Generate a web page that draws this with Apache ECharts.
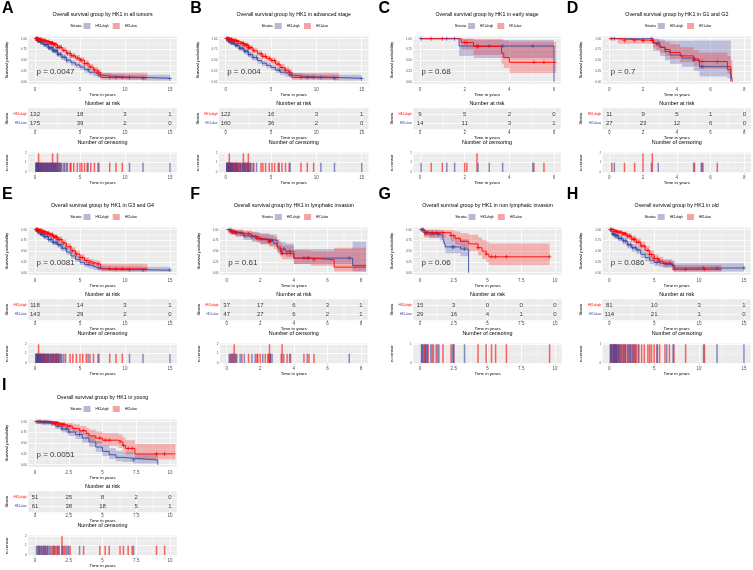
<!DOCTYPE html>
<html><head><meta charset="utf-8">
<script src="https://cdn.jsdelivr.net/npm/echarts@6/dist/echarts.min.js"></script>
<style>html,body{margin:0;padding:0;background:#fff}#c{width:753px;height:570px}</style>
</head><body><div id="c"></div>
<script>
// ---------------- DATA ----------------
const letters=['A','B','C','D','E','F','G','H','I'];
const titles=['Overall survival group by HK1 in all tumors','Overall survival group by HK1 in advanced stage','Overall survival group by HK1 in early stage','Overall survival group by HK1 in G1 and G2','Overall survival group by HK1 in G3 and G4','Overall survival group by HK1 in lymphatic invasion','Overall survival group by HK1 in non lymphatic invasion','Overall survival group by HK1 in old','Overall survival group by HK1 in young'];
const pvals=['p = 0.0047','p = 0.004','p = 0.68','p = 0.7','p = 0.0081','p = 0.61','p = 0.06','p = 0.086','p = 0.0051'];
const xMaxTick=[15,15,6,8,15,8,10,15,10];
const xTicks=[[0,5,10,15],[0,5,10,15],[0,2,4,6],[0,2,4,6,8],[0,5,10,15],[0,2,4,6,8],[0,2.5,5,7.5,10],[0,5,10,15],[0,2.5,5,7.5,10]];
const survTicks=[0,0.25,0.5,0.75,1];
const groupNames=['HK1=high','HK1=low'];

// A
const A_hi_t=[0,0.3,0.6,1.0,1.5,2.0,2.5,3.0,3.5,4.0,4.5,5.0,5.5,6.0,6.5,7.0,7.5,8.5,10.0,12.0,15.0];
const A_hi_s=[1.00,0.95,0.91,0.86,0.79,0.72,0.64,0.57,0.50,0.44,0.39,0.34,0.28,0.22,0.18,0.15,0.13,0.11,0.10,0.08,0.07];
const A_hi_lo=[1.00,0.92,0.87,0.81,0.73,0.66,0.58,0.50,0.43,0.37,0.32,0.27,0.21,0.16,0.12,0.10,0.08,0.06,0.05,0.03,0.02];
const A_hi_up=[1.00,0.98,0.95,0.91,0.85,0.79,0.71,0.64,0.57,0.51,0.46,0.41,0.35,0.29,0.25,0.22,0.20,0.18,0.17,0.16,0.16];
const A_hi_c=[0.1,0.15,0.2,0.25,0.3,0.35,0.45,0.5,0.6,0.7,0.8,0.9,1.0,1.1,1.2,1.3,1.4,1.5,1.6,1.7,1.8,1.9,2.0,2.1,2.2,2.3,2.4,2.5,2.6,2.8,3.0,3.3,3.5,5.9,7.1,10.5,12.0,15.0];
const A_lo_t=[0,0.4,0.8,1.2,1.6,2.0,2.5,3.0,3.5,4.0,4.5,5.0,5.5,6.0,6.5,7.0,7.3,12.5];
const A_lo_s=[1.00,0.98,0.96,0.93,0.90,0.86,0.80,0.73,0.66,0.60,0.55,0.50,0.42,0.34,0.27,0.22,0.10,0.10];
const A_lo_lo=[1.00,0.96,0.93,0.90,0.86,0.81,0.75,0.67,0.60,0.54,0.48,0.43,0.35,0.27,0.20,0.15,0.04,0.04];
const A_lo_up=[1.00,1.00,0.99,0.97,0.94,0.91,0.86,0.80,0.73,0.67,0.62,0.57,0.50,0.42,0.35,0.30,0.21,0.21];
const A_lo_c=[0.12,0.18,0.22,0.28,0.33,0.4,0.4,0.48,0.55,0.62,0.68,0.75,0.85,0.95,1.05,1.15,1.25,1.35,1.45,1.55,1.65,1.75,1.85,1.95,1.95,2.05,2.15,2.25,2.35,2.5,2.5,2.65,2.75,2.9,3.2,3.6,3.9,4.0,4.3,4.7,5.0,5.2,5.5,5.8,6.2,6.6,7.0,8.3,9.0,9.7];
const A_risk_hi=[132,18,3,1];
const A_risk_lo=[175,39,2,0];
// B
const B_hi_t=[0,0.3,0.6,1.0,1.5,2.0,2.5,3.0,3.5,4.0,4.5,5.0,5.5,6.0,6.5,7.0,7.5,8.5,10.0,12.0,15.0];
const B_hi_s=[1.00,0.94,0.90,0.85,0.78,0.71,0.63,0.56,0.49,0.43,0.38,0.33,0.27,0.22,0.18,0.15,0.13,0.11,0.10,0.08,0.07];
const B_hi_lo=[1.00,0.90,0.86,0.80,0.72,0.65,0.57,0.49,0.42,0.36,0.31,0.26,0.20,0.16,0.12,0.10,0.08,0.06,0.05,0.03,0.02];
const B_hi_up=[1.00,0.98,0.94,0.90,0.84,0.78,0.70,0.63,0.56,0.50,0.45,0.40,0.34,0.29,0.25,0.22,0.20,0.18,0.17,0.16,0.16];
const B_hi_c=[0.1,0.15,0.2,0.3,0.4,0.5,0.6,0.7,0.8,0.9,1.1,1.2,1.3,1.5,1.6,1.8,1.9,2.1,2.2,2.4,2.5,2.7,3.0,3.4,5.9,7.1,10.5,12.0,15.0];
const B_lo_t=[0,0.4,0.8,1.2,1.6,2.0,2.5,3.0,3.5,4.0,4.5,5.0,5.5,6.0,6.5,7.0,7.3,12.5];
const B_lo_s=[1.00,0.98,0.96,0.93,0.89,0.85,0.79,0.72,0.65,0.59,0.54,0.49,0.41,0.33,0.27,0.22,0.10,0.10];
const B_lo_lo=[1.00,0.96,0.93,0.89,0.85,0.80,0.73,0.66,0.59,0.53,0.47,0.42,0.34,0.26,0.20,0.15,0.04,0.04];
const B_lo_up=[1.00,1.00,0.99,0.97,0.94,0.91,0.85,0.79,0.72,0.66,0.61,0.56,0.49,0.41,0.35,0.30,0.21,0.21];
const B_lo_c=[0.12,0.18,0.25,0.3,0.35,0.4,0.4,0.45,0.5,0.58,0.65,0.7,0.8,0.88,1.0,1.05,1.15,1.2,1.35,1.4,1.6,1.7,1.9,1.95,1.95,2.05,2.2,2.3,2.45,2.5,2.5,2.65,2.8,3.1,3.9,4.1,4.4,4.8,5.1,5.4,5.8,6.2,6.6,7.0,8.3,9.0,9.7];
const B_risk_hi=[122,16,3,1];
const B_risk_lo=[160,36,2,0];
// C
const C_hi_t=[0,1.75,2.4,6.0,6.0];
const C_hi_s=[1,0.83,0.83,0.83,0];
const C_hi_lo=[1,0.6,0.55,0.55,0];
const C_hi_up=[1,1,0.97,0.97,0];
const C_hi_c=[0.05,1.2,1.55,2.6,3.1,3.7,5.05];
const C_lo_t=[0,1.85,2.4,3.65,3.75,4.0,6.1];
const C_lo_s=[1,0.91,0.82,0.66,0.56,0.45,0.45];
const C_lo_lo=[1,0.75,0.62,0.42,0.32,0.2,0.2];
const C_lo_up=[1,1,1,0.98,0.95,0.93,0.93];
const C_lo_c=[0.5,1.0,2.0,2.1,2.55,2.55,5.1,5.55];
const C_risk_hi=[9,5,2,0];
const C_risk_lo=[14,11,3,1];
// D
const D_hi_t=[0,2.6,3.0,3.3,3.6,4.3,5.0,5.35,7.0,7.2];
const D_hi_s=[1,0.9,0.8,0.7,0.62,0.55,0.5,0.35,0.28,0];
const D_hi_lo=[1,0.72,0.6,0.5,0.42,0.35,0.25,0.12,0.08,0];
const D_hi_up=[1,1,0.98,0.96,0.95,0.95,0.96,0.96,0.96,0];
const D_hi_c=[0.3,2.5,2.9,5.0,5.45,5.55];
const D_lo_t=[0,0.5,2.6,2.8,3.0,3.3,3.6,4.2,5.0,5.3,7.0,7.2,7.3];
const D_lo_s=[1,0.96,0.9,0.85,0.8,0.75,0.68,0.6,0.53,0.47,0.35,0.2,0];
const D_lo_lo=[1,0.88,0.8,0.73,0.67,0.6,0.53,0.45,0.37,0.3,0.18,0.06,0];
const D_lo_up=[1,1,1,0.98,0.95,0.92,0.87,0.8,0.73,0.68,0.6,0.5,0];
const D_lo_c=[0.15,0.9,1.5,2.0,2.0,2.55,2.55,5.05,5.5,6.4];
const D_risk_hi=[11,9,5,1,0];
const D_risk_lo=[27,23,12,6,0];
// E
const E_hi_t=[0,0.3,0.6,1.0,1.5,2.0,2.5,3.0,3.5,4.0,4.5,5.0,5.5,6.0,6.5,7.0,7.5,8.5,10.0,12.0,15.0];
const E_hi_s=[1.00,0.95,0.90,0.84,0.77,0.70,0.65,0.57,0.48,0.39,0.31,0.24,0.19,0.15,0.12,0.10,0.08,0.07,0.07,0.06,0.06];
const E_hi_lo=[1.00,0.91,0.86,0.79,0.71,0.64,0.58,0.50,0.41,0.32,0.25,0.18,0.13,0.10,0.07,0.05,0.04,0.03,0.03,0.02,0.02];
const E_hi_up=[1.00,0.98,0.95,0.90,0.84,0.77,0.72,0.65,0.56,0.47,0.39,0.31,0.26,0.22,0.19,0.17,0.16,0.15,0.15,0.14,0.14];
const E_hi_c=[0.1,0.15,0.2,0.3,0.4,0.45,0.6,0.7,0.8,0.9,1.0,1.1,1.2,1.4,1.5,1.7,1.8,2.0,2.1,2.3,2.4,2.6,2.8,3.0,3.4,5.9,7.1,10.5,12.0,15.0];
const E_lo_t=[0,0.4,0.8,1.2,1.6,2.0,2.5,3.0,3.5,4.0,4.5,5.0,5.5,6.0,6.5,7.0,7.3,12.5];
const E_lo_s=[1.00,0.98,0.95,0.92,0.88,0.83,0.77,0.69,0.60,0.51,0.43,0.35,0.28,0.24,0.21,0.20,0.09,0.09];
const E_lo_lo=[1.00,0.95,0.92,0.88,0.83,0.77,0.71,0.62,0.53,0.44,0.36,0.28,0.21,0.17,0.14,0.13,0.03,0.03];
const E_lo_up=[1.00,1.00,0.99,0.96,0.93,0.89,0.84,0.77,0.68,0.59,0.51,0.43,0.36,0.32,0.29,0.28,0.21,0.21];
const E_lo_c=[0.12,0.18,0.25,0.3,0.35,0.4,0.4,0.5,0.55,0.6,0.68,0.75,0.85,0.9,1.0,1.08,1.2,1.3,1.4,1.5,1.6,1.75,1.9,1.95,2.05,2.2,2.3,2.4,2.5,2.6,2.7,2.9,3.2,3.9,4.2,4.6,5.0,5.3,5.7,6.1,6.5,7.0,8.3,9.0,9.7];
const E_risk_hi=[118,14,3,1];
const E_risk_lo=[143,29,2,0];
// F
const F_hi_t=[0,0.3,0.6,1.0,1.5,2.0,2.6,3.0,3.1,3.5,4.0,7.5,8.3];
const F_hi_s=[1,0.95,0.92,0.86,0.83,0.78,0.75,0.63,0.55,0.5,0.34,0.17,0.17];
const F_hi_lo=[1,0.88,0.84,0.76,0.72,0.66,0.62,0.5,0.42,0.37,0.2,0.03,0.03];
const F_hi_up=[1,1,1,0.96,0.94,0.91,0.89,0.78,0.72,0.68,0.55,0.72,0.72];
const F_hi_c=[0.15,0.25,0.3,0.4,0.5,0.6,0.8,1.05,1.5,1.7,2.15,2.6,2.7,3.4,3.75,4.8,7.3];
const F_lo_t=[0,0.2,0.5,1.0,1.5,1.8,2.0,2.5,2.8,3.0,3.2,3.3,4.0,5.0,6.4,8.3];
const F_lo_s=[1,0.95,0.92,0.9,0.85,0.8,0.77,0.73,0.68,0.6,0.5,0.45,0.34,0.3,0.13,0.13];
const F_lo_lo=[1,0.88,0.84,0.81,0.75,0.7,0.66,0.61,0.55,0.47,0.36,0.31,0.2,0.16,0.03,0.03];
const F_lo_up=[1,1,1,0.98,0.95,0.92,0.9,0.87,0.83,0.77,0.68,0.63,0.52,0.5,0.58,0.58];
const F_lo_c=[0.2,0.35,0.45,0.45,0.55,0.9,1.3,1.8,1.85,2.0,2.3,2.45,2.5,2.55,2.55,2.6,3.25,3.3,3.3,3.6,3.8,4.6,4.9,5.2];
const F_risk_hi=[37,17,6,3,1];
const F_risk_lo=[47,27,6,2,1];
// G
const G_hi_t=[0,0.3,0.7,1.5,1.7,1.8,1.9,3.0,3.6,3.6];
const G_hi_s=[1,0.93,0.9,0.86,0.79,0.7,0.6,0.55,0.55,0];
const G_hi_lo=[1,0.85,0.8,0.75,0.66,0.56,0.45,0.38,0.38,0];
const G_hi_up=[1,1,1,0.98,0.94,0.88,0.82,0.78,0.78,0];
const G_hi_c=[0.1,0.15,0.2,0.4,0.5,0.55,0.8,1.0,1.3,1.4,2.4,2.5,3.3];
const G_lo_t=[0,0.3,2.3,2.6,3.0,3.6,4.3,4.6,4.9,5.1,9.6];
const G_lo_s=[1,0.93,0.86,0.8,0.73,0.67,0.58,0.5,0.43,0.37,0.37];
const G_lo_lo=[1,0.82,0.73,0.65,0.57,0.5,0.4,0.32,0.25,0.18,0.18];
const G_lo_up=[1,1,0.99,0.96,0.92,0.88,0.82,0.76,0.72,0.68,0.68];
const G_lo_c=[0.25,0.35,0.4,0.6,0.9,1.2,1.7,2.3,2.5,4.3,4.9,5.3,5.6,6.4,9.6];
const G_risk_hi=[15,3,0,0,0];
const G_risk_lo=[29,16,4,1,0];
// H
const H_hi_t=[0,0.3,0.6,1.0,1.5,2.0,2.5,3.0,3.5,4.0,4.5,5.0,5.5,6.0,7.0,7.3,15.0];
const H_hi_s=[1,0.9,0.86,0.8,0.74,0.65,0.58,0.53,0.43,0.35,0.29,0.24,0.21,0.19,0.17,0.11,0.11];
const H_hi_lo=[1,0.84,0.79,0.73,0.66,0.57,0.49,0.44,0.34,0.26,0.2,0.16,0.13,0.11,0.09,0.03,0.03];
const H_hi_up=[1,0.96,0.93,0.88,0.83,0.74,0.67,0.62,0.53,0.45,0.39,0.34,0.31,0.29,0.27,0.22,0.22];
const H_hi_c=[0.1,0.2,0.25,0.4,0.5,0.6,0.7,0.8,0.9,1.05,1.2,1.35,1.6,1.8,2.1,2.35,2.6,2.9,3.2,5.3,6.4,7.1,10.5,12.0,15.0];
const H_lo_t=[0,0.5,1.0,1.5,2.0,2.5,3.0,3.5,4.0,4.5,5.0,5.5,6.0,7.0,7.2,12.5];
const H_lo_s=[1,0.96,0.94,0.9,0.85,0.78,0.71,0.62,0.52,0.42,0.33,0.27,0.22,0.18,0.08,0.08];
const H_lo_lo=[1,0.92,0.89,0.84,0.78,0.7,0.62,0.53,0.43,0.33,0.25,0.19,0.14,0.1,0.02,0.02];
const H_lo_up=[1,1,0.99,0.96,0.92,0.86,0.8,0.72,0.62,0.52,0.43,0.37,0.31,0.27,0.18,0.18];
const H_lo_c=[0.15,0.3,0.45,0.55,0.65,0.75,0.85,1.0,1.1,1.3,1.5,1.65,1.8,2.0,2.2,2.3,2.5,2.7,2.8,3.0,3.3,3.6,3.9,4.3,4.5,4.7,5.0,5.35,5.6,6.2,6.7,7.2,8.5,10.6];
const H_risk_hi=[81,10,3,1];
const H_risk_lo=[114,21,1,0];
// I
const I_hi_t=[0,0.5,1.2,1.5,2.0,2.5,3.0,3.5,4.0,4.5,5.0,5.5,6.0,6.5,7.3,9.1,9.1];
const I_hi_s=[1,0.98,0.96,0.9,0.83,0.76,0.7,0.62,0.53,0.41,0.31,0.23,0.17,0.15,0.11,0.11,0];
const I_hi_lo=[1,0.94,0.91,0.83,0.75,0.67,0.6,0.51,0.42,0.3,0.2,0.13,0.08,0.06,0.03,0.03,0];
const I_hi_up=[1,1,1,0.97,0.92,0.86,0.81,0.74,0.66,0.55,0.45,0.38,0.32,0.3,0.25,0.25,0];
const I_hi_c=[0.1,0.2,0.3,0.4,0.5,0.6,0.7,0.8,0.9,1.0,1.2,1.4,1.7,2.0,2.3,2.5,3.3,7.3];
const I_lo_t=[0,1.3,1.8,2.3,2.8,3.3,3.8,4.0,4.5,5.0,6.2,6.5,6.7,7.4,10.4];
const I_lo_s=[1,0.97,0.93,0.89,0.84,0.79,0.73,0.67,0.62,0.57,0.53,0.45,0.38,0.25,0.25];
const I_lo_lo=[1,0.92,0.87,0.81,0.75,0.69,0.62,0.55,0.49,0.44,0.39,0.31,0.24,0.12,0.12];
const I_lo_up=[1,1,0.99,0.97,0.94,0.9,0.86,0.81,0.77,0.73,0.7,0.63,0.57,0.48,0.48];
const I_lo_c=[0.25,0.35,0.5,0.65,0.75,0.9,1.1,1.3,1.4,1.5,1.6,1.7,1.8,2.0,2.0,2.1,2.2,2.4,2.6,3.6,4.8,5.2,5.5,6.3,6.55,6.9,7.2,9.0,9.6];
const I_risk_hi=[51,25,8,2,0];
const I_risk_lo=[61,38,18,5,1];

const PANELS=[
 [[A_hi_t,A_hi_s,A_hi_lo,A_hi_up,A_hi_c],[A_lo_t,A_lo_s,A_lo_lo,A_lo_up,A_lo_c],A_risk_hi,A_risk_lo],
 [[B_hi_t,B_hi_s,B_hi_lo,B_hi_up,B_hi_c],[B_lo_t,B_lo_s,B_lo_lo,B_lo_up,B_lo_c],B_risk_hi,B_risk_lo],
 [[C_hi_t,C_hi_s,C_hi_lo,C_hi_up,C_hi_c],[C_lo_t,C_lo_s,C_lo_lo,C_lo_up,C_lo_c],C_risk_hi,C_risk_lo],
 [[D_hi_t,D_hi_s,D_hi_lo,D_hi_up,D_hi_c],[D_lo_t,D_lo_s,D_lo_lo,D_lo_up,D_lo_c],D_risk_hi,D_risk_lo],
 [[E_hi_t,E_hi_s,E_hi_lo,E_hi_up,E_hi_c],[E_lo_t,E_lo_s,E_lo_lo,E_lo_up,E_lo_c],E_risk_hi,E_risk_lo],
 [[F_hi_t,F_hi_s,F_hi_lo,F_hi_up,F_hi_c],[F_lo_t,F_lo_s,F_lo_lo,F_lo_up,F_lo_c],F_risk_hi,F_risk_lo],
 [[G_hi_t,G_hi_s,G_hi_lo,G_hi_up,G_hi_c],[G_lo_t,G_lo_s,G_lo_lo,G_lo_up,G_lo_c],G_risk_hi,G_risk_lo],
 [[H_hi_t,H_hi_s,H_hi_lo,H_hi_up,H_hi_c],[H_lo_t,H_lo_s,H_lo_lo,H_lo_up,H_lo_c],H_risk_hi,H_risk_lo],
 [[I_hi_t,I_hi_s,I_hi_lo,I_hi_up,I_hi_c],[I_lo_t,I_lo_s,I_lo_lo,I_lo_up,I_lo_c],I_risk_hi,I_risk_lo]
];

// ---------------- LAYOUT / STYLE ----------------
const FONT='Liberation Sans';
const LINE=['#3A47A0','#FF0000'];
const BAND=['rgba(58,71,160,0.27)','rgba(255,0,0,0.25)'];
const BARC=['rgba(58,71,160,0.6)','rgba(255,0,0,0.6)'];
const BARZ=[4,3];
const KEYC=['#B7B9D6','#F3A3A3'];
const RISKLAB=['#FF0000','#3A47A0'];
const X0=[35,225.7,420,609.3,35,226.7,420,609.3,35];
const XM=[170,361.7,554,744.3,170,361,555,744,170];
const RB=[0,0,0,0,191,191,191,191,383];
const COL=[0,188.25,376.5,564.75,0,188.25,376.5,564.75,0];
const LETY=[8.7,195,386];
const PLUS='path://M2,0H3V2H5V3H3V5H2V3H0V2H2Z';

const grid=[],xAxis=[],yAxis=[],series=[],legend=[],graphic=[];

function sAt(T,S,t){let v=S[0];for(let k=0;k<T.length;k++){if(T[k]<=t)v=S[k];else break;}return v;}
function counts(C){const m=new Map();C.forEach(t=>m.set(t,(m.get(t)||0)+1));return [...m.entries()];}
function mids(a){const r=[];for(let k=0;k<a.length-1;k++)r.push((a[k]+a[k+1])/2);return r;}
function gridlines(gi,xs,ys,ysMinor){
  const d=[];
  mids(xs).forEach(v=>d.push({xAxis:v,lineStyle:{width:0.4}}));
  ysMinor.forEach(v=>d.push({yAxis:v,lineStyle:{width:0.4}}));
  xs.forEach(v=>d.push({xAxis:v,lineStyle:{width:0.8}}));
  ys.forEach(v=>d.push({yAxis:v,lineStyle:{width:0.8}}));
  series.push({type:'line',xAxisIndex:gi,yAxisIndex:gi,data:[[0,0]],showSymbol:false,lineStyle:{width:0,opacity:0},silent:true,z:1,
    markLine:{z:1,silent:true,symbol:['none','none'],label:{show:false},lineStyle:{color:'#FFFFFF',type:'solid'},animation:false,data:d}});
}
function xax(gi,xmin,xmax,ticks,margin,nameGap){
  return {type:'value',gridIndex:gi,min:xmin,max:xmax,axisLine:{show:false},splitLine:{show:false},
    axisTick:{show:true,customValues:ticks,length:1.5,lineStyle:{color:'#333',width:0.5}},
    axisLabel:{customValues:ticks,fontSize:4.5,color:'#4D4D4D',margin:margin,fontFamily:FONT},
    name:'Time in years',nameLocation:'middle',nameGap:nameGap,nameTextStyle:{fontSize:4.4,color:'#000',fontFamily:FONT}};
}
function yax(gi,ymin,ymax,ticks,fmt,name,rich){
  const lab={customValues:ticks,fontSize:3,color:'#4D4D4D',margin:1.5,fontFamily:FONT,formatter:fmt};
  if(rich)lab.rich=rich;
  return {type:'value',gridIndex:gi,min:ymin,max:ymax,axisLine:{show:false},splitLine:{show:false},
    axisTick:{show:true,customValues:ticks,length:1.5,lineStyle:{color:'#333',width:0.5}},
    axisLabel:lab,name:name,nameLocation:'middle',nameRotate:90,nameGap:19.5,
    nameTextStyle:{fontSize:4.4,color:'#000',fontFamily:FONT}};
}
function txt(x,y,text,size,align,weight){
  graphic.push({type:'text',x:x,y:y,silent:true,style:{text:text,fontSize:size,fontFamily:FONT,fontWeight:weight||'normal',fill:'#000',textAlign:align||'center',textVerticalAlign:'middle',align:align||'center',verticalAlign:'middle'}});
}
function bandSeries(gi,T,LO,UP,color){
  series.push({type:'custom',xAxisIndex:gi,yAxisIndex:gi,silent:true,z:2,clip:true,data:[[T[0],LO[0]]],
    renderItem:function(params,api){
      const n=T.length,pts=[];
      for(let k=0;k<n;k++){const t1=k<n-1?T[k+1]:T[k];pts.push(api.coord([T[k],UP[k]]));pts.push(api.coord([t1,UP[k]]));}
      for(let k=n-1;k>=0;k--){const t1=k<n-1?T[k+1]:T[k];pts.push(api.coord([t1,LO[k]]));pts.push(api.coord([T[k],LO[k]]));}
      return {type:'polygon',shape:{points:pts},style:{fill:color,stroke:null}};
    }});
}

PANELS.forEach((P,i)=>{
  const M=xMaxTick[i],ticks=xTicks[i];
  const u=(XM[i]-X0[i])/M,pad=0.05*M;
  const left=X0[i]-pad*u,right=XM[i]+pad*u,w=right-left,cx=(left+right)/2;
  const base=RB[i];
  const xmin=-pad,xmax=M+pad;
  const g0=grid.length;
  grid.push({left:left,top:base+36.55,width:w,height:47.3,show:true,backgroundColor:'#EBEBEB',borderWidth:0,containLabel:false,outerBoundsMode:'none'});
  grid.push({left:left,top:base+108.3,width:w,height:20.9,show:true,backgroundColor:'#EBEBEB',borderWidth:0,containLabel:false,outerBoundsMode:'none'});
  grid.push({left:left,top:base+152.4,width:w,height:20.5,show:true,backgroundColor:'#EBEBEB',borderWidth:0,containLabel:false,outerBoundsMode:'none'});
  xAxis.push(xax(g0,xmin,xmax,ticks,3,8.5));
  yAxis.push(yax(g0,-0.05,1.05,survTicks,v=>v.toFixed(2),'Survival probability'));
  xAxis.push(xax(g0+1,xmin,xmax,ticks,1,5.5));
  yAxis.push(yax(g0+1,0.4,2.6,[1,2],v=>v===2?'{h|'+groupNames[0]+'}':'{l|'+groupNames[1]+'}','Strata',
    {h:{color:RISKLAB[0],fontSize:3,fontFamily:FONT},l:{color:RISKLAB[1],fontSize:3,fontFamily:FONT}}));
  const cc=[counts(P[0][4]),counts(P[1][4])];
  let cmax=1;cc.forEach(a=>a.forEach(e=>{if(e[1]>cmax)cmax=e[1];}));
  const cTicks=[];for(let k=0;k<=cmax;k++)cTicks.push(k);
  xAxis.push(xax(g0+2,xmin,xmax,ticks,2,6));
  yAxis.push(yax(g0+2,-0.05*cmax,1.05*cmax,cTicks,v=>String(v),'n.censor'));

  gridlines(g0,ticks,survTicks,mids(survTicks));
  gridlines(g0+1,ticks,[1,2],[]);
  gridlines(g0+2,ticks,cTicks,mids(cTicks));

  [0,1].forEach(g=>{
    const [T,S,LO,UP,C]=P[g];
    bandSeries(g0,T,LO,UP,BAND[g]);
  });
  [0,1].forEach(g=>{
    const [T,S,LO,UP,C]=P[g];
    series.push({name:groupNames[g],type:'line',xAxisIndex:g0,yAxisIndex:g0,step:'end',symbol:'none',silent:true,z:3,
      color:LINE[g],lineStyle:{color:LINE[g],width:0.9},data:T.map((t,k)=>[t,S[k]])});
    series.push({type:'scatter',xAxisIndex:g0,yAxisIndex:g0,symbol:PLUS,symbolSize:4,silent:true,z:4,
      itemStyle:{color:LINE[g]},data:C.map(t=>[t,sAt(T,S,t)])});
    const R=P[2+g];
    series.push({type:'scatter',xAxisIndex:g0+1,yAxisIndex:g0+1,symbolSize:1,silent:true,z:4,
      itemStyle:{color:'rgba(0,0,0,0)'},
      label:{show:true,position:'inside',fontSize:6,color:'#000',fontFamily:FONT,formatter:p=>String(p.value[2])},
      data:ticks.map((t,k)=>[t,2-g,R[k]])});
    series.push({type:'bar',xAxisIndex:g0+2,yAxisIndex:g0+2,barWidth:1.5,barGap:'-100%',silent:true,z:BARZ[g],
      itemStyle:{color:BARC[g]},data:cc[g].map(e=>[e[0],e[1]])});
  });
  series.push({type:'scatter',xAxisIndex:g0,yAxisIndex:g0,symbolSize:1,silent:true,z:5,itemStyle:{color:'rgba(0,0,0,0)'},
    label:{show:true,position:'right',distance:1,fontSize:8,color:'#000',fontFamily:FONT,formatter:()=>pvals[i]},
    data:[[0,0.23]]});
  legend.push({left:cx-19,top:base+23,orient:'horizontal',selectedMode:false,itemWidth:7,itemHeight:6,itemGap:4,padding:0,
    textStyle:{fontSize:3,color:'#000',fontFamily:FONT},
    data:[{name:groupNames[0],icon:'rect',itemStyle:{color:KEYC[0]}},{name:groupNames[1],icon:'rect',itemStyle:{color:KEYC[1]}}]});
  const row=i<4?0:(i<8?1:2);
  txt(COL[i]+2,LETY[row],letters[i],16,'left','bold');
  txt(cx,base+15,titles[i],5.3);
  txt(cx-21,base+26,'Strata',4.2,'right');
  txt(cx,base+104,'Number at risk',5.4);
  txt(cx,base+143,'Number of censoring',5.4);
});

const chart=echarts.init(document.getElementById('c'),null,{renderer:'canvas'});
chart.setOption({animation:false,backgroundColor:'#FFFFFF',textStyle:{fontFamily:FONT},
  grid:grid,xAxis:xAxis,yAxis:yAxis,series:series,legend:legend,graphic:graphic});
</script></body></html>
